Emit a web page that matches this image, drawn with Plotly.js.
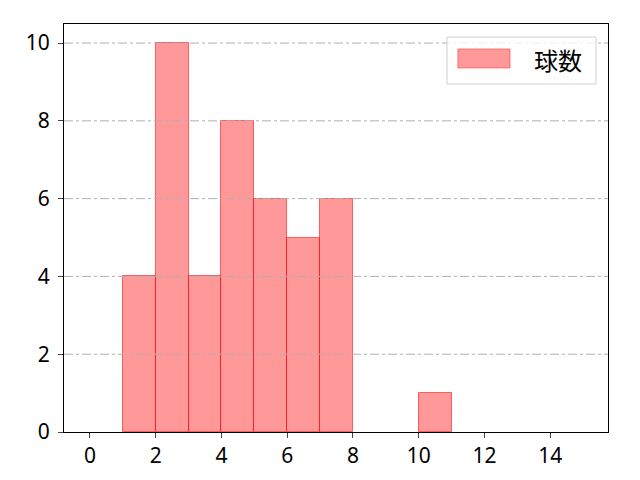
<!DOCTYPE html>
<html lang="ja">
    <head>
        <meta charset="UTF-8" />
        <script src="https://cdn.plot.ly/plotly-3.0.1.min.js"></script>
        <style>
            body { margin: 0; }
            #graph { width: 640px; height: 480px; }
        </style>
    </head>
    <body>
        <div id="graph"></div>
    </body>
    <script>
        // Bin left edges and pitch counts
        const binStarts = [1, 2, 3, 4, 5, 6, 7, 10];
        const counts = [4, 10, 4, 8, 6, 5, 6, 1];
        const seriesName = "球数";
        const xTicks = [0, 2, 4, 6, 8, 10, 12, 14];
        const yTicks = [0, 2, 4, 6, 8, 10];

        const fill = "rgba(255,0,0,0.4)";

        const data = [
            {
                type: "bar",
                name: seriesName,
                x: binStarts,
                y: counts,
                width: 1,
                offset: 0,
                marker: {
                    color: fill,
                    line: { color: "rgba(255,0,0,0.55)", width: 1 },
                },
                showlegend: false,
            },
        ];

        // grid lines drawn over the bars like the original
        const shapes = yTicks.slice(1).map((v) => ({
            type: "line",
            xref: "paper",
            yref: "y",
            x0: 0,
            x1: 1,
            y0: v,
            y1: v,
            layer: "above",
            line: { color: "#b0b0b0", width: 1, dash: "dashdot" },
        }));

        // hand made legend box (wide patch like matplotlib)
        shapes.push({
            type: "rect",
            xref: "paper",
            yref: "paper",
            x0: 0.704,
            x1: 0.978,
            y0: 0.853,
            y1: 0.968,
            layer: "above",
            fillcolor: "rgba(255,255,255,0.8)",
            line: { color: "#d0d0d0", width: 1 },
        });
        shapes.push({
            type: "rect",
            xref: "paper",
            yref: "paper",
            x0: 0.724,
            x1: 0.82,
            y0: 0.892,
            y1: 0.939,
            layer: "above",
            fillcolor: fill,
            line: { color: "rgba(255,0,0,0.4)", width: 1 },
        });

        const tickFont = { family: "Noto Sans, DejaVu Sans", size: 21, color: "#000" };

        const layout = {
            width: 640,
            height: 480,
            margin: { l: 64, r: 32, t: 24, b: 48 },
            font: { family: "Noto Sans CJK JP, DejaVu Sans", size: 20, color: "#000" },
            paper_bgcolor: "#fff",
            plot_bgcolor: "#fff",
            xaxis: {
                range: [-0.79, 15.76],
                tickvals: xTicks,
                tickfont: tickFont,
                ticks: "outside",
                ticklen: 5,
                showgrid: false,
                zeroline: false,
                showline: true,
                mirror: true,
                linecolor: "#000",
                linewidth: 1.2,
            },
            yaxis: {
                range: [0, 10.49],
                tickvals: yTicks,
                tickfont: tickFont,
                ticks: "outside",
                ticklen: 5,
                ticklabelstandoff: 4,
                showgrid: false,
                zeroline: false,
                showline: true,
                mirror: true,
                linecolor: "#000",
                linewidth: 1.2,
            },
            shapes: shapes,
            annotations: [
                {
                    xref: "paper",
                    yref: "paper",
                    x: 0.908,
                    y: 0.912,
                    text: seriesName,
                    showarrow: false,
                    xanchor: "center",
                    yanchor: "middle",
                    font: { size: 24 },
                },
            ],
            bargap: 0,
        };

        Plotly.newPlot("graph", data, layout, { displayModeBar: false });
    </script>
</html>
